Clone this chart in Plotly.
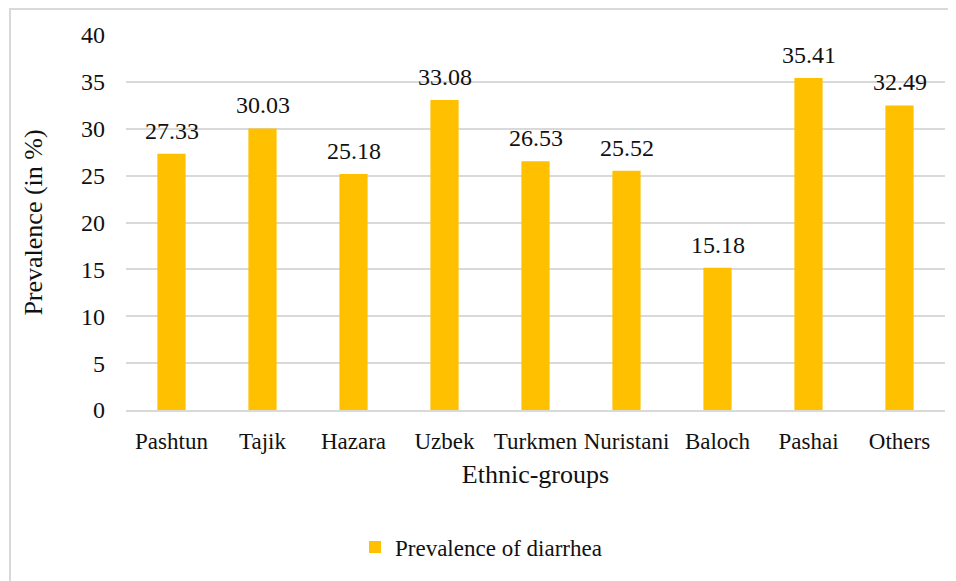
import plotly.graph_objects as go

categories = ["Pashtun", "Tajik", "Hazara", "Uzbek", "Turkmen", "Nuristani", "Baloch", "Pashai", "Others"]
prevalence = [27.33, 30.03, 25.18, 33.08, 26.53, 25.52, 15.18, 35.41, 32.49]
y_ticks = [0, 5, 10, 15, 20, 25, 30, 35, 40]

FONT = "'Liberation Serif', 'Times New Roman', 'DejaVu Serif', serif"
TXT = "#111111"
OFF = 8  # page body margin
W, H = 956 - OFF, 581 - OFF
L, T = 126 - OFF, 35 - OFF
pw, ph = 819, 375
R = W - L - pw
B = H - T - ph

fig = go.Figure()
fig.add_trace(go.Bar(
    x=categories, y=prevalence,
    name="Prevalence of diarrhea",
    marker=dict(color="#FFC000", line=dict(width=0)),
    cliponaxis=False,
))

annotations = [
    dict(x=c, y=v, xref="x", yref="y", text=f"{v:.2f}", showarrow=False,
         yanchor="middle", xanchor="center", yshift=23,
         font=dict(family=FONT, size=24, color=TXT))
    for c, v in zip(categories, prevalence)
]

def px2paper_x(px):
    return (px - OFF - L) / pw

def py2paper_y(py):
    return (H - B - (py - OFF)) / ph

fig.update_layout(
    width=W, height=H,
    margin=dict(l=L, r=R, t=T, b=B),
    paper_bgcolor="white", plot_bgcolor="white",
    font=dict(family=FONT, size=24, color=TXT),
    bargap=0.69,
    showlegend=True,
    legend=dict(orientation="h", x=px2paper_x(355), xanchor="left",
                y=py2paper_y(547), yanchor="middle",
                font=dict(family=FONT, size=23, color=TXT),
                itemwidth=30),
    xaxis=dict(
        showgrid=False, showline=True, linecolor="#d9d9d9", linewidth=2,
        tickfont=dict(family=FONT, size=23, color=TXT),
        ticks="", ticklabelstandoff=9,
        title=dict(text="Ethnic-groups", font=dict(family=FONT, size=26, color=TXT), standoff=12),
    ),
    yaxis=dict(
        range=[0, 40], tickvals=y_ticks,
        showgrid=True, gridcolor="#d9d9d9", gridwidth=2,
        zeroline=False, showline=False,
        tickfont=dict(family=FONT, size=24, color=TXT),
        ticks="", ticklabelstandoff=20,
        title=dict(text="Prevalence (in %)", font=dict(family=FONT, size=26, color=TXT), standoff=30),
    ),
    annotations=annotations,
    shapes=[dict(type="rect", xref="paper", yref="paper",
                 x0=px2paper_x(10), x1=px2paper_x(975),
                 y0=py2paper_y(600), y1=py2paper_y(9),
                 line=dict(color="#d9d9d9", width=2), fillcolor="rgba(0,0,0,0)",
                 layer="below")],
)

fig.write_html("out.html")
